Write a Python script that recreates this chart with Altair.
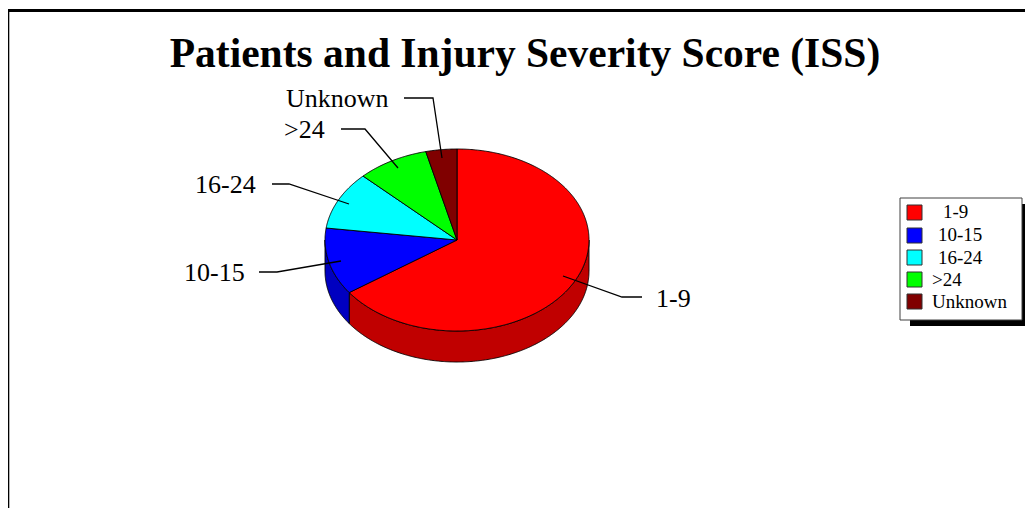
import altair as alt
import numpy as np
import pandas as pd

TITLE = "Patients and Injury Severity Score (ISS)"
categories = ["1-9", "10-15", "16-24", ">24", "Unknown"]
shares = [65.2, 11.9, 10.3, 8.8, 3.8]
top_colors = ["#FF0000", "#0000FF", "#00FFFF", "#00FF00", "#800000"]
side_colors = {"1-9": "#C00000", "10-15": "#0000C0"}

CX, CY, RX, RY, DEPTH = 457.0, 240.0, 132.0, 91.0, 31.0
W, H = 1017, 500

X = alt.X("x:Q", scale=alt.Scale(domain=[8, 1025], nice=False, zero=False), axis=None)
Y = alt.Y("y:Q", scale=alt.Scale(domain=[508, 8], nice=False, zero=False), axis=None)
X2 = alt.X2("x2:Q")
Y2 = alt.Y2("y2:Q")
ORDER = alt.Order("i:Q")


def rim(a, b, dy=0.0):
    t = np.radians(np.linspace(a, b, max(int(abs(b - a) * 2), 2)))
    return list(CX + RX * np.sin(t)), list(CY - RY * np.cos(t) + dy)


def poly(xs, ys, fill, width=0.9):
    xs = list(xs) + [xs[0]]
    ys = list(ys) + [ys[0]]
    df = pd.DataFrame({"x": xs, "y": ys, "i": range(len(xs))})
    return alt.Chart(df).mark_line(fill=fill, stroke="black", strokeWidth=width,
                                   strokeJoin="round").encode(x=X, y=Y, order=ORDER)


edges = np.concatenate([[0], np.cumsum(shares)]) / sum(shares) * 360
layers = []

# frame
frame = pd.DataFrame({"x": [8, 8], "x2": [1025, 9.3], "y": [9, 9], "y2": [12, 508]})
layers.append(alt.Chart(frame).mark_rect(color="black").encode(x=X, x2=X2, y=Y, y2=Y2))

# side walls (only visible part, from the right-most rim point to the left-most)
for i, c in enumerate(categories):
    a, b = max(edges[i], 90.0), min(edges[i + 1], 270.0)
    if c in side_colors and b > a:
        x1, y1 = rim(a, b)
        x2, y2 = rim(b, a, DEPTH)
        layers.append(poly(x1 + x2, y1 + y2, side_colors[c]))

# top wedges
for i, c in enumerate(categories):
    xs, ys = rim(edges[i], edges[i + 1])
    layers.append(poly([CX] + xs, [CY] + ys, top_colors[i]))

# leaders
leaders = {
    "1-9": [(642, 297), (622, 297), (563, 276)],
    "10-15": [(259, 272), (277, 272), (341, 261)],
    "16-24": [(272, 184), (289, 184), (349, 204)],
    ">24": [(341, 129), (365, 129), (398, 168)],
    "Unknown": [(404, 98), (433, 98), (442, 158)],
}
for c, pts in leaders.items():
    df = pd.DataFrame({"x": [p[0] for p in pts], "y": [p[1] for p in pts], "i": range(len(pts))})
    layers.append(alt.Chart(df).mark_line(stroke="black", strokeWidth=1.3).encode(x=X, y=Y, order=ORDER))

# slice labels
lab = pd.DataFrame({
    "x": [656, 184, 195, 284, 286],
    "y": [299, 273, 185, 130, 99],
    "t": categories,
})
layers.append(alt.Chart(lab).mark_text(font="Liberation Serif", fontSize=26, align="left",
                                       baseline="middle", color="black").encode(x=X, y=Y, text="t:N"))

# title
ttl = pd.DataFrame({"x": [525], "y": [55], "t": [TITLE]})
layers.append(alt.Chart(ttl).mark_text(font="Liberation Serif", fontSize=41.5, fontWeight="bold",
                                       align="center", baseline="middle", color="black").encode(x=X, y=Y, text="t:N"))

# legend
shadow = pd.DataFrame({"x": [910], "x2": [1025], "y": [204], "y2": [326]})
layers.append(alt.Chart(shadow).mark_rect(color="black").encode(x=X, x2=X2, y=Y, y2=Y2))
box = pd.DataFrame({"x": [900], "x2": [1022], "y": [198], "y2": [320]})
layers.append(alt.Chart(box).mark_rect(fill="white", stroke="#404040", strokeWidth=1).encode(x=X, x2=X2, y=Y, y2=Y2))
sw_top = [205, 228, 250, 272, 294]
sw = pd.DataFrame({"x": [907] * 5, "x2": [922] * 5, "y": sw_top, "y2": [v + 15 for v in sw_top], "c": categories})
layers.append(alt.Chart(sw).mark_rect(stroke="#303030", strokeWidth=1).encode(
    x=X, x2=X2, y=Y, y2=Y2,
    fill=alt.Fill("c:N", scale=alt.Scale(domain=categories, range=top_colors), legend=None)))
lg = pd.DataFrame({"x": [943, 938, 938, 932, 932], "y": [212, 235, 258, 280, 302], "t": categories})
layers.append(alt.Chart(lg).mark_text(font="Liberation Serif", fontSize=19, align="left",
                                      baseline="middle", color="black").encode(x=X, y=Y, text="t:N"))

chart = alt.layer(*layers).properties(
    width=W, height=H, padding=0, autosize=alt.AutoSizeParams(type="none"), background="white"
).configure_view(stroke=None)

chart.save("out.html", embed_options={"renderer": "svg", "actions": False})
